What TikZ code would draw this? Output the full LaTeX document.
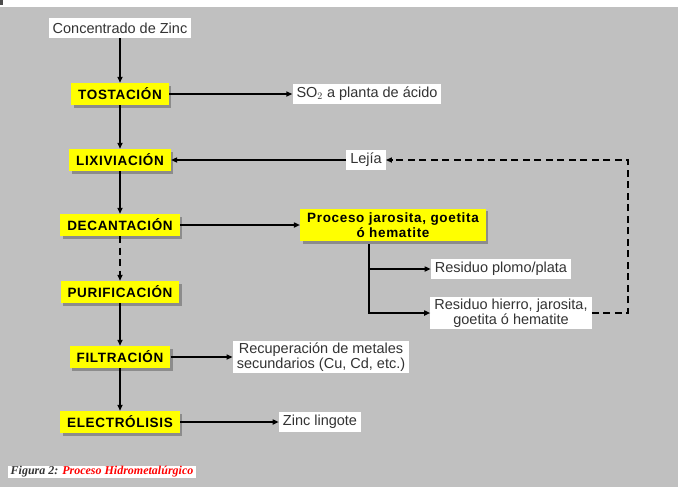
\documentclass[tikz,border=0pt]{standalone}
\usepackage{fontspec}
\setmainfont{Liberation Sans}
\newfontfamily\capfont{Liberation Serif}
\newfontfamily\etiqfont[LetterSpace=5]{Liberation Sans}
\usepackage{xcolor}
\usetikzlibrary{positioning,arrows.meta,shadows}
\definecolor{fondo}{HTML}{C0C0C0}
\definecolor{amarillo}{HTML}{FFFF00}
\definecolor{textogris}{HTML}{333333}

\begin{document}
\begin{tikzpicture}[x=1pt, y=-1pt, font=\fontsize{14.5}{15}\selectfont,
  etapa/.style={fill=amarillo, inner xsep=7pt, inner ysep=3pt, minimum height=22pt, align=center,
    font=\fontsize{13.5}{14.5}\selectfont\etiqfont\bfseries,
    drop shadow={shadow xshift=2.5pt, shadow yshift=-2.5pt, fill=black!45, opacity=1}},
  salida/.style={fill=white, inner xsep=4pt, inner ysep=2pt, minimum height=20pt, text=textogris, align=center},
  arr/.style={line width=1.8pt, -{Triangle[length=6pt,width=5pt]}},
  ret/.style={arr, dash pattern=on 7pt off 4.5pt}]
\useasboundingbox (0,0) rectangle (683,491);
\fill[fondo] (0,7) rectangle (678,487);
\fill[black!70] (0,0) rectangle (3,5);
% columna principal
\node[salida] (conc) at (120,28) {Concentrado de Zinc};
\node[etapa] (tost) at (120,94) {TOSTACIÓN};
\node[etapa] (lix) at (120,160) {LIXIVIACIÓN};
\node[etapa] (dec) at (120,225) {DECANTACIÓN};
\node[etapa] (puri) at (120,292) {PURIFICACIÓN};
\node[etapa] (filt) at (120,357) {FILTRACIÓN};
\node[etapa] (elec) at (120,422) {ELECTRÓLISIS};
% salidas
\node[salida] (so2) at (367,94) {SO$_2$ a planta de ácido};
\node[salida] (lejia) at (366,160) {Lejía};
\node[etapa, inner ysep=4pt] (proc) at (393,225) {Proceso jarosita, goetita\\ó hematite};
\node[salida] (plomo) at (501,269) {Residuo plomo/plata};
\node[salida] (hierro) at (511,313) {Residuo hierro, jarosita,\\goetita ó hematite};
\node[salida] (recup) at (321,357) {Recuperación de metales\\secundarios (Cu, Cd, etc.)};
\node[salida] (zinc) at (320,422) {Zinc lingote};
\node[fill=white, inner xsep=3pt, inner ysep=1pt, font=\fontsize{12}{12}\selectfont\capfont\bfseries\itshape] (fig) at (102,472)
  {\textcolor{textogris}{Figura 2:} \textcolor{red}{Proceso Hidrometalúrgico}};
\coordinate (pb) at (369,244);
\coordinate (vuelta) at (628,160);
\draw[arr] (conc) -- (tost);
\draw[arr] (tost) -- (lix);
\draw[arr] (lix) -- (dec);
\draw[ret] (dec) -- (puri);
\draw[arr] (puri) -- (filt);
\draw[arr] (filt) -- (elec);
\draw[arr] (tost) -- (so2);
\draw[arr] (lejia) -- (lix);
\draw[arr] (dec) -- (proc);
\draw[arr] (pb) |- (plomo);
\draw[arr] (pb) |- (hierro);
\draw[ret] (hierro) -| (vuelta) -- (lejia);
\draw[arr] (filt) -- (recup);
\draw[arr] (elec) -- (zinc);
\end{tikzpicture}
\end{document}
